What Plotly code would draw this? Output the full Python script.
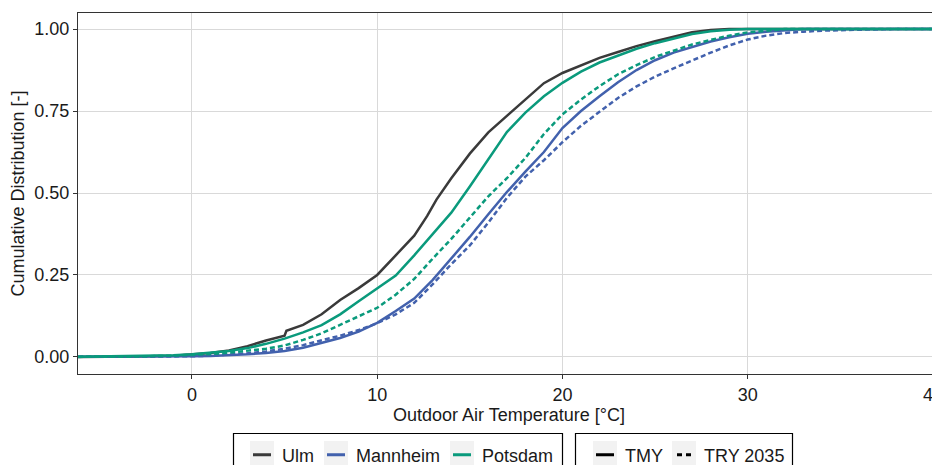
import plotly.graph_objects as go

# ---- data (temperature [°C] -> cumulative share) ----
ulm_tmy_t = [-7, -3, -1, 0, 1, 2, 3, 4, 5, 5.1, 6, 7, 8, 9, 10, 11, 12, 12.7, 13.2, 14, 15, 16, 17, 18, 19, 20, 21, 22, 23, 24, 25, 26, 27, 28, 29, 42]
ulm_tmy_f = [0, 0.001, 0.004, 0.007, 0.012, 0.02, 0.033, 0.05, 0.065, 0.08, 0.098, 0.13, 0.174, 0.21, 0.25, 0.31, 0.37, 0.43, 0.48, 0.545, 0.62, 0.685, 0.735, 0.785, 0.835, 0.866, 0.89, 0.912, 0.93, 0.948, 0.963, 0.977, 0.99, 0.997, 1.0, 1.0]

man_tmy_t = [-7, -3, -1, 0, 1, 2, 3, 4, 5, 6, 7, 8, 9, 10, 11, 12, 13, 14, 15, 16, 17, 18, 19, 20, 21, 22, 23, 24, 25, 26, 27, 28, 29, 30, 31, 32, 33, 42]
man_tmy_f = [0, 0.0, 0.001, 0.002, 0.003, 0.005, 0.008, 0.012, 0.018, 0.028, 0.042, 0.058, 0.077, 0.104, 0.14, 0.178, 0.235, 0.3, 0.366, 0.435, 0.503, 0.565, 0.625, 0.698, 0.75, 0.795, 0.838, 0.875, 0.905, 0.928, 0.945, 0.962, 0.975, 0.986, 0.992, 0.997, 1.0, 1.0]

man_try_t = [-7, -3, -1, 0, 1, 2, 3, 4, 5, 6, 7, 8, 9, 10, 11, 12, 13, 14, 15, 16, 17, 18, 19, 20, 21, 22, 23, 24, 25, 26, 27, 28, 29, 30, 31, 32, 33, 34, 36, 38, 42]
man_try_f = [0, 0.0, 0.001, 0.002, 0.004, 0.007, 0.011, 0.017, 0.025, 0.036, 0.05, 0.065, 0.082, 0.103, 0.13, 0.165, 0.222, 0.283, 0.34, 0.41, 0.485, 0.55, 0.6, 0.655, 0.705, 0.748, 0.79, 0.825, 0.855, 0.88, 0.905, 0.928, 0.95, 0.968, 0.98, 0.988, 0.992, 0.995, 0.998, 1.0, 1.0]

pot_tmy_t = [-7, -3, -1, 0, 1, 2, 3, 4, 5, 6, 7, 8, 9, 10, 11, 12, 13, 14, 15, 16, 17, 18, 19, 20, 21, 22, 23, 24, 25, 26, 27, 28, 29, 30, 42]
pot_tmy_f = [0, 0.002, 0.005, 0.008, 0.012, 0.018, 0.027, 0.04, 0.056, 0.075, 0.097, 0.13, 0.17, 0.21, 0.248, 0.31, 0.375, 0.44, 0.52, 0.605, 0.686, 0.745, 0.795, 0.836, 0.87, 0.898, 0.92, 0.94, 0.957, 0.972, 0.985, 0.993, 0.998, 1.0, 1.0]

pot_try_t = [-7, -3, -1, 0, 1, 2, 3, 4, 5, 6, 7, 8, 9, 10, 11, 12, 13, 14, 15, 16, 17, 18, 19, 20, 21, 22, 23, 24, 25, 26, 27, 28, 29, 30, 31, 32, 42]
pot_try_f = [0, 0.001, 0.004, 0.006, 0.009, 0.013, 0.018, 0.025, 0.035, 0.052, 0.072, 0.098, 0.123, 0.15, 0.19, 0.238, 0.3, 0.36, 0.425, 0.49, 0.545, 0.607, 0.68, 0.74, 0.785, 0.826, 0.862, 0.89, 0.915, 0.935, 0.953, 0.967, 0.98, 0.99, 0.996, 1.0, 1.0]

cities = ["Ulm", "Mannheim", "Potsdam"]
city_colors = {"Ulm": "#3a3a3a", "Mannheim": "#4261ad", "Potsdam": "#0a9a7c"}
scenarios = ["TMY", "TRY 2035"]
x_ticks = [0, 10, 20, 30, 40]
y_ticks = [0.0, 0.25, 0.5, 0.75, 1.0]

series = [
    ("Ulm", "TMY", ulm_tmy_t, ulm_tmy_f),
    ("Mannheim", "TMY", man_tmy_t, man_tmy_f),
    ("Mannheim", "TRY 2035", man_try_t, man_try_f),
    ("Potsdam", "TMY", pot_tmy_t, pot_tmy_f),
    ("Potsdam", "TRY 2035", pot_try_t, pot_try_f),
]

DASH = {"TMY": "solid", "TRY 2035": "5px,3px"}
# legend-key patterns: short centred strokes inside the 30px legend symbol
KEY_DASH = {"TMY": "0px,6px,18px,100px", "TRY 2035": "0px,8px,5px,4px,5px,100px"}
FONT = "Liberation Sans, Arial, sans-serif"
TXT = "#1a1a1a"
GRID = "#d9d9d9"

# page body has an 8px margin -> figure origin sits at (8, 8) in the screenshot
OFF = 8
W, H = 932, 457
ML, MT, MB = 70, 5, H - (374 - OFF)
PW, PH = W - ML, H - MT - MB


def px_to_paper_x(sx):
    return (sx - OFF - ML) / PW


def px_to_paper_y(sy):
    return (H - MB - (sy - OFF)) / PH


fig = go.Figure()
for city, scen, t, f in series:
    fig.add_trace(go.Scatter(
        x=t, y=f, mode="lines", showlegend=False,
        line=dict(color=city_colors[city], width=2.5, dash=DASH[scen]),
        name=f"{city} {scen}",
    ))

# legend: one small legend per entry so each label sits where the reference has it
entries = [(c, city_colors[c], KEY_DASH["TMY"]) for c in cities] + \
          [(s, "#000000", KEY_DASH[s]) for s in scenarios]
text_left = [282, 356, 482, 625, 704]          # screen x of each label
legend_layout = {}
for i, ((name, col, dsh), tx) in enumerate(zip(entries, text_left)):
    lname = "legend" if i == 0 else f"legend{i + 1}"
    fig.add_trace(go.Scatter(x=[None], y=[None], mode="lines", name=name,
                             line=dict(color=col, width=3, dash=dsh),
                             legend=lname))
    legend_layout[lname] = dict(
        orientation="h", xref="container", yref="container",
        x=(tx - 40 - OFF) / W, xanchor="left",
        y=1 - (455 - OFF) / H, yanchor="middle",
        borderwidth=0, bgcolor="rgba(0,0,0,0)",
        font=dict(size=18, color=TXT, family=FONT),
        itemwidth=30,
    )
    # grey key background (ggplot legend.key)
    cx = tx - 20
    fig.add_shape(type="rect", xref="paper", yref="paper", layer="below",
                  x0=px_to_paper_x(cx - 12), x1=px_to_paper_x(cx + 12),
                  y0=px_to_paper_y(441), y1=px_to_paper_y(480),
                  fillcolor="#f2f2f2", line=dict(width=0))

# legend frames
for x0, x1 in [(233.5, 562.5), (575.5, 792.5)]:
    fig.add_shape(type="rect", xref="paper", yref="paper",
                  x0=px_to_paper_x(x0), x1=px_to_paper_x(x1),
                  y0=px_to_paper_y(433.5), y1=px_to_paper_y(485),
                  fillcolor="rgba(0,0,0,0)", line=dict(color="#000000", width=1.2))

# the last x tick sits close to the right edge; make sure its grid line and tick show
fig.add_shape(type="line", xref="x", yref="paper", layer="below",
              x0=x_ticks[-1], x1=x_ticks[-1], y0=0, y1=1,
              line=dict(color=GRID, width=1.2))
fig.add_shape(type="line", xref="x", yref="paper",
              x0=x_ticks[-1], x1=x_ticks[-1], y0=0, y1=-4 / PH,
              line=dict(color="#333333", width=1.2))

axis_common = dict(
    showgrid=True, gridcolor=GRID, gridwidth=1.2,
    showline=True, linecolor="#333333", linewidth=1.2, mirror=True,
    ticks="outside", ticklen=4, tickcolor="#333333", tickwidth=1.2,
    tickfont=dict(size=18, color=TXT, family=FONT),
    zeroline=False, automargin=False, ticklabeloverflow="allow",
)

fig.update_xaxes(range=[-6.15, 40.38], tickvals=x_ticks,
                 title=dict(text="Outdoor Air Temperature [°C]", font=dict(size=18, color=TXT, family=FONT), standoff=4),
                 **axis_common)
fig.update_yaxes(range=[-0.052, 1.049], tickvals=y_ticks, tickformat=".2f",
                 title=dict(text="Cumulative Distribution [-]", font=dict(size=18, color=TXT, family=FONT), standoff=4),
                 **axis_common)

fig.update_layout(
    width=W, height=H,
    margin=dict(l=ML, r=0, t=MT, b=MB, autoexpand=False),
    paper_bgcolor="#ffffff", plot_bgcolor="#ffffff",
    font=dict(family=FONT),
    **legend_layout,
)

# keep the page free of scrollbars (figure + body margin just fill the window)
fig.write_html("out.html", post_script="document.body.style.overflow='hidden';")
